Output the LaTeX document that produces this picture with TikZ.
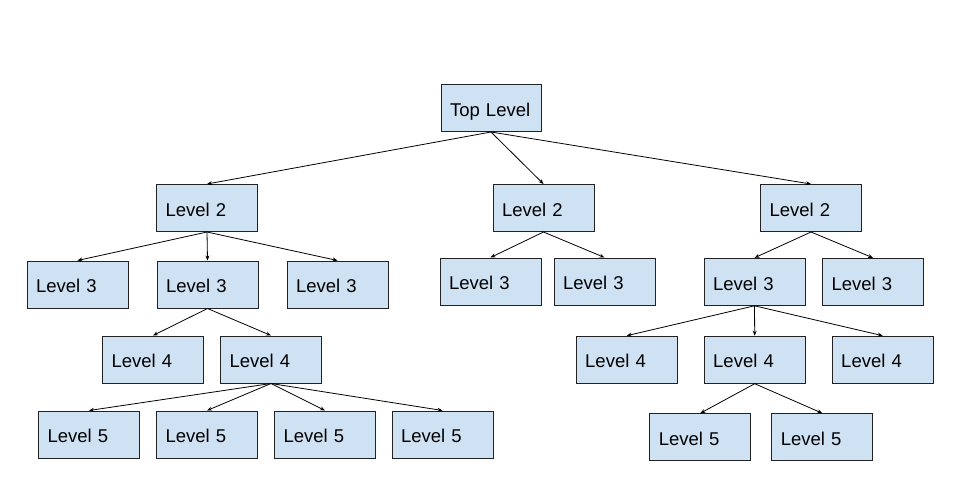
\documentclass[tikz,border=0pt]{standalone}
\usepackage{fontspec}
\setmainfont{Liberation Sans}
\usetikzlibrary{positioning,arrows.meta}

\definecolor{boxfill}{HTML}{CFE2F3}
\definecolor{boxline}{HTML}{222222}

\tikzset{
	lvl/.style={draw=boxline, fill=boxfill, line width=1pt,
		minimum width=101pt, minimum height=47pt,
		text width=83pt, inner xsep=9pt, align=left,
		text height=16.5pt, text depth=0pt,
		font=\fontsize{18.5}{22}\selectfont},
	arr/.style={draw=black, line width=0.8pt, -{Stealth[length=5pt,width=4pt]}}
}

\begin{document}
\begin{tikzpicture}[x=1pt,y=-1pt]
\useasboundingbox (0,0) rectangle (957,496);
	\node [lvl, minimum width=100pt, text width=82pt] (t) at (491,108) {Top Level};
    % level 2
    \node [lvl] (a1) at (207,208) {Level 2};
    \node [lvl] (a2) at (543.5,208) {Level 2};
    \node [lvl] (a3) at (811,208) {Level 2};
    % level 3
    \node [lvl] (b1) at (77.5,284.5) {Level 3};
    \node [lvl, right=28pt of b1] (b2) {Level 3};
    \node [lvl, right=28pt of b2] (b3) {Level 3};
    \node [lvl] (b4) at (490.5,281.5) {Level 3};
    \node [lvl, right=12pt of b4] (b5) {Level 3};
    \node [lvl] (b6) at (754.5,281.8) {Level 3};
    \node [lvl, right=16.5pt of b6] (b7) {Level 3};
    % level 4
    \node [lvl] (c1) at (153,359.5) {Level 4};
    \node [lvl, right=16pt of c1] (c2) {Level 4};
    \node [lvl] (c3) at (626.7,359.7) {Level 4};
    \node [lvl, right=26pt of c3] (c4) {Level 4};
    \node [lvl, right=26pt of c4] (c5) {Level 4};
    % level 5
    \node [lvl] (d1) at (89,434.5) {Level 5};
    \node [lvl, right=16pt of d1] (d2) {Level 5};
    \node [lvl, right=16pt of d2] (d3) {Level 5};
    \node [lvl, right=15.5pt of d3] (d4) {Level 5};
    \node [lvl] (d5) at (700.3,437.2) {Level 5};
    \node [lvl, right=20pt of d5] (d6) {Level 5};

    \draw [arr] (t.south) -- (a1.north);
    \draw [arr] (t.south) -- (a2.north);
    \draw [arr] (t.south) -- (a3.north);
    \draw [arr] (a1.south) -- (b1.north);
    \draw [arr] (a1.south) -- (b2.north);
    \draw [arr] (a1.south) -- (b3.north);
    \draw [arr] (a2.south) -- (b4.north);
    \draw [arr] (a2.south) -- (b5.north);
    \draw [arr] (a3.south) -- (b6.north);
    \draw [arr] (a3.south) -- (b7.north);
    \draw [arr] (b2.south) -- (c1.north);
    \draw [arr] (b2.south) -- (c2.north);
    \draw [arr] (b6.south) -- (c3.north);
    \draw [arr] (b6.south) -- (c4.north);
    \draw [arr] (b6.south) -- (c5.north);
    \draw [arr] (c2.south) -- (d1.north);
    \draw [arr] (c2.south) -- (d2.north);
    \draw [arr] (c2.south) -- (d3.north);
    \draw [arr] (c2.south) -- (d4.north);
    \draw [arr] (c4.south) -- (d5.north);
    \draw [arr] (c4.south) -- (d6.north);

\end{tikzpicture}
\end{document}
